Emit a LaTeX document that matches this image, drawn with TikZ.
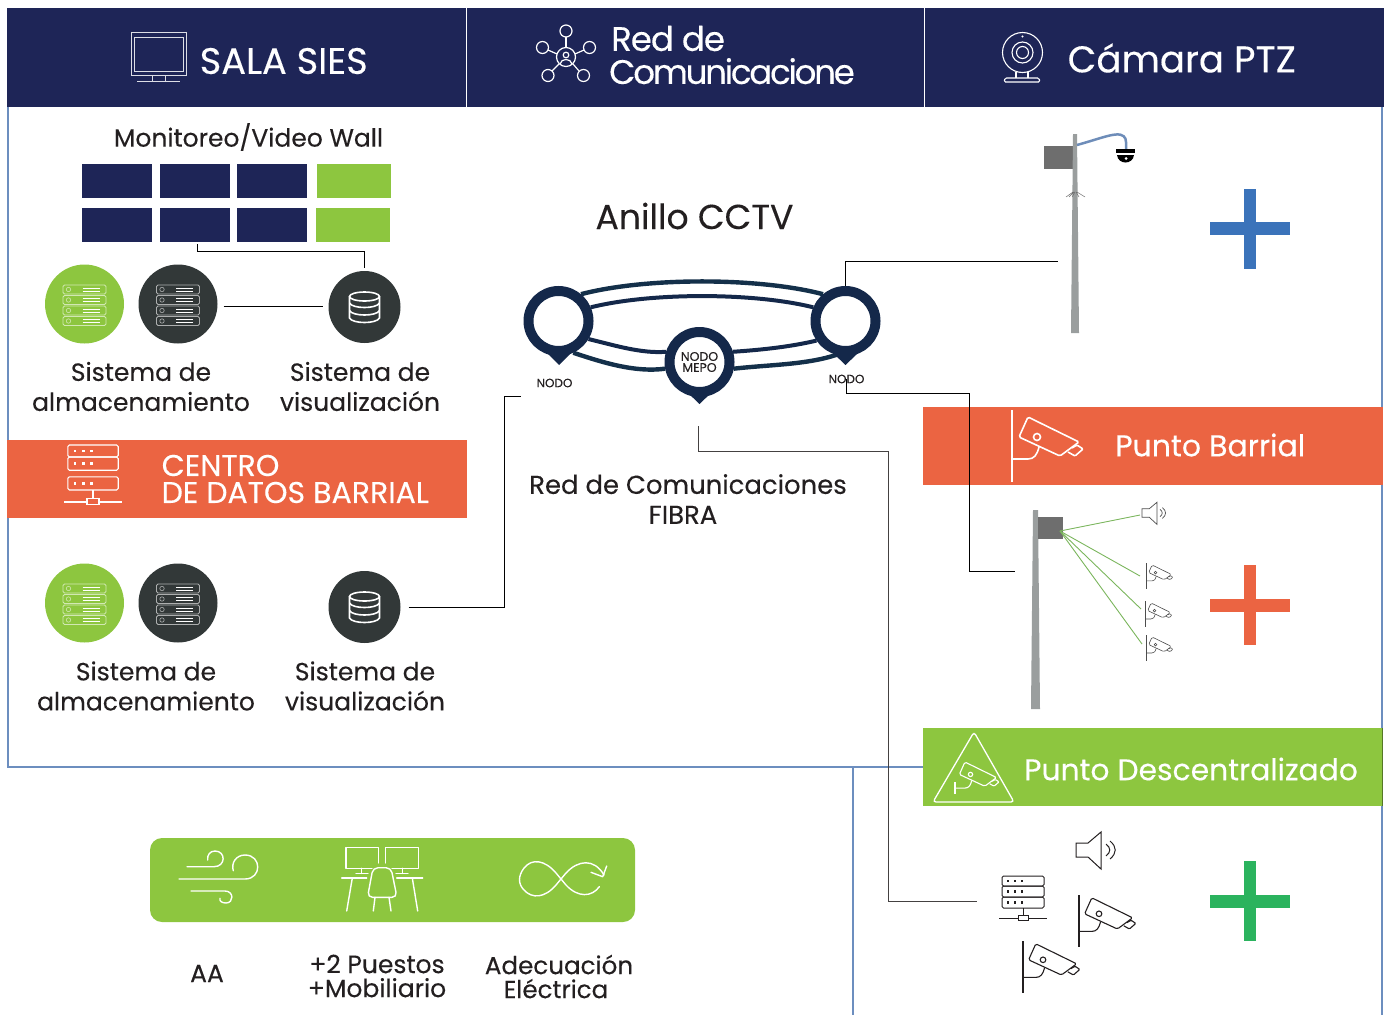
\documentclass[tikz,border=0pt]{standalone}
\usepackage{fontspec}
\setmainfont[FakeBold=.25]{Poppins}
\newfontfamily\tightfont[LetterSpace=-3,FakeBold=.25]{Poppins}
\newfontfamily\tighterfont[LetterSpace=-6.5,FakeBold=.25]{Poppins}
\usetikzlibrary{backgrounds}

\definecolor{navy}{HTML}{1E2557}
\definecolor{ringblue}{HTML}{14284A}
\definecolor{ringteal}{HTML}{14304A}
\definecolor{coral}{HTML}{EB6442}
\definecolor{leaf}{HTML}{8DC63F}
\definecolor{slate}{HTML}{323838}
\definecolor{ink}{HTML}{231F20}
\definecolor{edgeblue}{HTML}{6C8EBF}
\definecolor{postgray}{HTML}{9A9E9E}
\definecolor{boxgray}{HTML}{6E6E6E}
\definecolor{plusblue}{HTML}{3B73BA}
\definecolor{plusgreen}{HTML}{2BB35E}
\definecolor{tapgreen}{HTML}{7AB55C}

\tikzset{
    head/.style={rectangle, fill=navy, inner sep=0pt, minimum width=#1, minimum height=99pt},
    band/.style={rectangle, inner sep=0pt, minimum width=460pt, minimum height=78pt},
    screen/.style={rectangle, fill=navy, inner sep=0pt, minimum width=70pt, minimum height=34pt},
    greenscreen/.style={rectangle, fill=leaf, inner sep=0pt, minimum width=74pt, minimum height=34pt},
    disc/.style={circle, inner sep=0pt, minimum size=#1},
    pin/.style={circle, draw=ringblue, fill=white, line width=10pt, minimum size=60pt, inner sep=0pt,
        align=center, text=ink, font=\fontsize{12.5}{11}\selectfont},
    tag/.style={inner sep=0pt, text=ink, font=\fontsize{12}{14}\selectfont},
    lbl/.style={inner sep=0pt, text=ink, align=center, font=\fontsize{25}{30}\selectfont},
    whitetxt/.style={inner sep=0pt, anchor=west, text=white, align=left},
    wire/.style={draw=black, line width=.8pt},
    ringline/.style={draw=ringblue, line width=4pt},
    ringout/.style={draw=ringteal, line width=4.4pt},
    tap/.style={draw=tapgreen, line width=.9pt},
    edge/.style={draw=edgeblue, line width=1.2pt},
    pics/cctv/.style={code={
        \draw (0,-#1) -- (0,#1);
        \draw[rounded corners=1.5pt] (16,-29) -- (67,-4) -- (48,10) -- (7,-9) -- cycle;
        \draw (25,-9) circle (3.5);
        \draw[rounded corners=1pt] (60,2) -- (65,-1) -- (71,3) -- (63,10) -- (56,6);
        \draw (27,1) .. controls (25,9) and (22,13) .. (16,13) -- (0,13);
    }},
    pics/horn/.style={code={
        \draw (-25,-7) -- (-13,-7) -- (0,-18) -- (0,19) -- (-13,7) -- (-25,7) -- cycle;
        \draw (5,-6) .. controls (10,-2) and (10,2) .. (5,6);
        \draw (9,-9) .. controls (16,-3) and (16,3) .. (9,9);
    }},
    pics/rack/.style={code={
        \draw[rounded corners=1.5pt] (-21,0) rectangle (21,10);
        \draw[rounded corners=1.5pt] (-21,10) rectangle (21,21);
        \draw[rounded corners=1.5pt] (-21,{21+#1}) rectangle (21,{32+#1});
        \foreach \dx in {-15,-8,-1} {
            \fill (\dx-1.2,3.8) rectangle (\dx+1.2,6.2);
            \fill (\dx-1.2,14.3) rectangle (\dx+1.2,16.7);
            \fill (\dx-1.2,{25.3+#1}) rectangle (\dx+1.2,{27.7+#1});
        }
        \draw (0,{32+#1}) -- (0,{39+#1});
        \draw (-5,{39+#1}) rectangle (5,{44+#1});
        \draw (-24,{42+#1}) -- (-5,{42+#1});
        \draw (5,{42+#1}) -- (24,{42+#1});
    }},
    pics/shelf/.style={code={
        \foreach \rowy in {-14.5,-4,6.5,17} {
            \draw[#1, line width=.8pt, rounded corners=1.5pt] (-21.5,\rowy-4.5) rectangle (21.5,\rowy+4.5);
            \draw[#1, line width=.6pt] (-16,\rowy) circle (2.2);
            \draw[white, line width=.7pt] (-2,\rowy-1.5) -- (15,\rowy-1.5);
            \draw[white, line width=.7pt] (-2,\rowy+1.5) -- (15,\rowy+1.5);
        }
    }},
    pics/barrel/.style={code={
        \draw[white, line width=1.6pt] (0,-10.5) circle[x radius=15, y radius=4.5];
        \draw[white, line width=1.6pt] (-15,-10.5) -- (-15,11) .. controls (-12,17) and (12,17) .. (15,11) -- (15,-10.5);
        \draw[white, line width=1.6pt] (-15,-4) .. controls (-12,2) and (12,2) .. (15,-4);
        \draw[white, line width=1.6pt] (-15,3.5) .. controls (-12,9.5) and (12,9.5) .. (15,3.5);
    }},
    pics/plus/.style={code={
        \fill[#1] (-6,-40) rectangle (6,40);
        \fill[#1] (-40,-6.5) rectangle (40,6.5);
    }},
}

\begin{document}
\begin{tikzpicture}[x=1pt,y=-1pt]
    \useasboundingbox (0,0) rectangle (1389,1015);

    % frame
    \draw[edge] (8,107) -- (8,767) -- (923,767);
    \draw[edge] (853,767) -- (853,1015);
    \draw[edge] (1382,107) -- (1382,1015);

    % header
    \node[head=459pt] (hdrA) at (236.5,57.5) {};
    \node[head=458pt] (hdrB) at (695,57.5) {};
    \node[head=460pt] (hdrC) at (1154,57.5) {};
    \draw[white, line width=.8pt] (hdrA.north east) -- (hdrA.south east);
    \draw[white, line width=.8pt] (hdrB.north east) -- (hdrB.south east);
    \node[whitetxt, font=\fontsize{36.8}{36}\selectfont] (salaT) at (199.5,61) {SALA SIES};
    \node[whitetxt, font=\fontsize{34}{33}\selectfont] (redT) at (609,55) {\tightfont\hspace*{2pt}Red de\\\tighterfont Comunicacione};
    \node[whitetxt, font=\fontsize{37.2}{36}\selectfont] (camT) at (1067.5,58) {Cámara PTZ};

    % monitor
    \draw[white!85!navy, line width=.9pt] (131,32) rectangle (186,75);
    \draw[white!85!navy, line width=.9pt] (134.5,37) rectangle (183,71);
    \draw[white!85!navy, line width=.9pt] (152,75) -- (152,81.5);
    \draw[white!85!navy, line width=.9pt] (165,75) -- (165,81.5);
    \draw[white!85!navy, line width=.9pt] (137,81.5) -- (180,81.5);

    % network
    \begin{scope}[white, line width=1.2pt]
        \draw (566,57) circle (9.5);
        \draw (566,31) circle (6);
        \draw (542.5,47.5) circle (6);
        \draw (589.5,47.5) circle (6);
        \draw (548,75.5) circle (6);
        \draw (583.5,75.5) circle (6);
        \draw (566,37) -- (566,47.5);
        \draw (548,50) -- (557,54);
        \draw (584,50) -- (575,54);
        \draw (552,71) -- (559,64);
        \draw (579,71) -- (573,64);
        \draw (566,55) circle (2.8);
        \draw (560,64) .. controls (561,58) and (571,58) .. (572,64);
    \end{scope}

    % webcam
    \begin{scope}[white, line width=1.1pt]
        \draw (1022.5,52.5) circle (20);
        \draw (1022.5,52.5) circle (10.5);
        \draw (1022.5,52.5) circle (6);
        \fill (1022.5,36.5) circle (1.2);
        \draw (1016,72) -- (1016,78);
        \draw (1028,72) -- (1028,78);
        \draw[rounded corners=1.5pt] (1004,82) -- (1005,78) -- (1039,78) -- (1040,82) -- cycle;
    \end{scope}

    % video wall
    \node[lbl] (wallT) at (248.5,137) {Monitoreo/Video Wall};
    \node[screen] (scrA) at (117,181) {};
    \node[screen] (scrB) at (195,181) {};
    \node[screen] (scrC) at (272,181) {};
    \node[greenscreen] (scrD) at (354,181) {};
    \node[screen] (scrE) at (117,225) {};
    \node[screen] (scrF) at (195,225) {};
    \node[screen] (scrG) at (272,225) {};
    \node[greenscreen] (scrH) at (353,225) {};

    % upper room
    \node[disc=79pt, fill=leaf] (stGA) at (84.5,304) {};
    \node[disc=79pt, fill=slate] (stDA) at (178,304) {};
    \node[disc=72pt, fill=slate] (dbA) at (364.5,307) {};
    \pic at (stGA) {shelf={white!60!leaf}};
    \pic at (stDA) {shelf={white!60!slate}};
    \pic at (dbA) {barrel};
    \node[lbl] (stTA) at (141,386.5) {Sistema de\\almacenamiento};
    \node[lbl] (viTA) at (360,386.5) {Sistema de\\visualización};

    % centro
    \node[band, fill=coral] (bandC) at (237,479) {};
    \pic[white, line width=1.1pt, scale=1.2] at (93,445) {rack=5.5};
    \node[whitetxt, font=\fontsize{30}{27}\selectfont] (bandCT) at (161.5,479) {CENTRO\\DE DATOS BARRIAL};

    % lower room
    \node[disc=79pt, fill=leaf] (stGB) at (84.5,603) {};
    \node[disc=79pt, fill=slate] (stDB) at (178,603) {};
    \node[disc=72pt, fill=slate] (dbB) at (364.5,607) {};
    \pic at (stGB) {shelf={white!60!leaf}};
    \pic at (stDB) {shelf={white!60!slate}};
    \pic at (dbB) {barrel};
    \node[lbl] (stTB) at (146,686) {Sistema de\\almacenamiento};
    \node[lbl] (viTB) at (365,686) {Sistema de\\visualización};

    % ring
    \node[lbl, font=\fontsize{34.6}{34}\selectfont] (ringT) at (694.5,216) {Anillo CCTV};
    \node[pin] (pinL) at (558.5,321) {};
    \node[pin] (pinR) at (845.5,321) {};
    \node[pin] (pinM) at (699.5,362) {NODO\\MEPO};
    \fill[ringblue] (548,354) -- (570,354) -- (559,365) -- cycle;
    \fill[ringblue] (834,354) -- (857,354) -- (845.5,365) -- cycle;
    \fill[ringblue] (687,392) -- (712,392) -- (699.5,404) -- cycle;
    \begin{scope}[on background layer]
        \draw[ringout] (pinL.50) .. controls +(65,-17) and +(-65,-17) .. (pinR.130);
        \draw[ringline] (pinL.23) .. controls +(60,-15) and +(-60,-15) .. (pinR.157);
        \draw[ringline] (pinL.-31) .. controls +(25,6) and +(-25,2) .. (pinM.163);
        \draw[ringout] (pinL.-65) .. controls +(30,10) and +(-30,4) .. (pinM.191);
        \draw[ringline] (pinM.17) .. controls +(30,-2) and +(-25,6) .. (pinR.214);
        \draw[ringout] (pinM.-11) .. controls +(35,-4) and +(-30,10) .. (pinR.255);
    \end{scope}
    \node[tag] (tagL) at (554.5,383) {NODO};
    \node[tag] (tagR) at (846.5,379) {NODO};
    \node[lbl, font=\fontsize{25.9}{30}\selectfont] (fibraT) at (688,499) {Red de Comunicaciones\\FIBRA\hspace*{10pt}};

    % pole ptz
    \fill[boxgray] (1044,146) rectangle (1073,169);
    \fill[postgray] (1073,134) -- (1077,134) -- (1079,333) -- (1071,333) -- cycle;
    \draw[edgeblue!90!gray, line width=2.5pt] (1077,145) .. controls (1095,140) and (1108,135) .. (1116,134.5) .. controls (1123,134) and (1126,137) .. (1126,142) -- (1126,149);
    \fill[black] (1116,149) rectangle (1135,153);
    \fill[black] (1117,155) .. controls (1118,165) and (1133,165) .. (1134,155) -- cycle;
    \fill[white] (1126,158.5) circle (1.5);
    \draw[boxgray, line width=.5pt] (1066,197) -- (1073,192) (1069,197) -- (1074,192) (1072,197) -- (1075,192) (1079,197) -- (1076,192) (1085,197) -- (1077,192);
    \pic at (1250,228.5) {plus=plusblue};

    % punto barrial
    \node[band, fill=coral] (bandB) at (1153,446) {};
    \pic[white, line width=1.6pt] at (1012,446) {cctv=36};
    \node[whitetxt, font=\fontsize{30}{30}\selectfont] (bandBT) at (1115,445) {Punto Barrial};
    \fill[postgray] (1033,510) -- (1038,510) -- (1040,709) -- (1031,709) -- cycle;
    \fill[boxgray] (1038,517) rectangle (1063,539);
    \coordinate (hubB) at (1060,531);
    \coordinate (spkB) at (1157,513);
    \coordinate (tapS) at (1140,515);
    \coordinate (tapA) at (1140,576);
    \coordinate (tapC) at (1141,609);
    \coordinate (tapD) at (1142,644);
    \draw[tap] (hubB) -- (tapS);
    \draw[tap] (hubB) -- (tapA);
    \draw[tap] (hubB) -- (tapC);
    \draw[tap] (hubB) -- (tapD);
    \pic[boxgray!70!black, line width=.7pt, scale=.6] at (spkB) {horn};
    \pic[boxgray!70!black, line width=.6pt, scale=.38] at (1146,576) {cctv=33};
    \pic[boxgray!70!black, line width=.6pt, scale=.38] at (1145,614) {cctv=33};
    \pic[boxgray!70!black, line width=.6pt, scale=.38] at (1146,648) {cctv=33};
    \pic at (1250,605) {plus=coral};

    % punto descentralizado
    \node[band, fill=leaf, minimum width=459pt] (bandD) at (1152.5,767) {};
    \draw[leaf!60!black, line width=1.2pt] (bandD.north east) -- (bandD.south east);
    \draw[white, line width=1.3pt, rounded corners=3pt] (974,732) -- (1014,802) -- (933,802) -- cycle;
    \pic[white, line width=1.1pt, scale=.62] at (955,780) {cctv=0};
    \draw[white, line width=1.1pt] (955,782) -- (955,794);
    \node[whitetxt, font=\fontsize{29.8}{30}\selectfont] (bandDT) at (1024,769) {Punto Descentralizado};
    \pic[ink, line width=1pt] at (1101,850) {horn};
    \pic[ink, line width=1pt] at (1023,876) {rack=0};
    \pic[ink, line width=1.1pt, scale=.8] at (1079,921) {cctv=32.5};
    \pic[ink, line width=1.1pt, scale=.8] at (1023,967) {cctv=32.5};
    \pic at (1250,901) {plus=plusgreen};

    % wires
    \coordinate (lanA) at (521,396);
    \coordinate (turnA) at (504,396);
    \coordinate (lanC) at (1058,261);
    \coordinate (turnR) at (969,393);
    \coordinate (lanB) at (1015,571);
    \coordinate (lanM) at (698,426);
    \coordinate (turnM) at (888,451);
    \coordinate (lanD) at (977,901);
    \draw[wire, shorten <=2pt, shorten >=3pt] ([xshift=2pt]scrF.south) -- ++(0,9) -| (dbA.north);
    \draw[wire, shorten <=6pt, shorten >=5pt] ([yshift=1pt]stDA.east |- dbA) -- ([yshift=1pt]dbA.west);
    \draw[wire, shorten <=8pt] (dbB.east) -| (turnA) -- (lanA);
    \draw[wire] (pinR.north) |- (lanC);
    \draw[wire] (tagR.center) |- (turnR) |- (lanB);
    \draw[wire, draw=ink!85] (lanM) |- (turnM) |- (lanD);

    % services
    \node[rectangle, fill=leaf, rounded corners=12pt, inner sep=0pt, minimum width=485pt, minimum height=84pt] (svcBar) at (392.5,880) {};
    \begin{scope}[white, line width=1.4pt, line cap=round, line join=round]
        % wind
        \draw (187,866.7) -- (214,866.7) .. controls (226,866.7) and (226,851) .. (215,851) .. controls (210,851) and (207,855) .. (207.7,860);
        \draw (179,879) -- (245,879) .. controls (262,879) and (262,855) .. (245,855) .. controls (236,855) and (231,863) .. (233.3,870.7);
        \draw (191,891) -- (225,891) .. controls (234,891) and (234,903) .. (226,903) .. controls (222,903) and (219,901) .. (220,898.3);
        % desk
        \draw (378.7,863) -- (378.7,847.3) -- (346,847.3) -- (346,868.3) -- (372,868.3);
        \draw (385.7,863) -- (385.7,847.3) -- (418.3,847.3) -- (418.3,868.3) -- (392,868.3);
        \draw (361.7,868.3) -- (361.7,873.5) (356,873.5) -- (368,873.5);
        \draw (402.3,868.3) -- (402.3,873.5) (396,873.5) -- (408,873.5);
        \draw (341.7,878) -- (366.7,878) (396.7,878) -- (422.7,878);
        \draw (352.3,878) -- (346.7,911) (412.3,878) -- (417.7,911);
        \draw[rounded corners=5pt] (373,867.7) -- (391,867.7) -- (397,897.3) -- (367.5,897.3) -- cycle;
        \draw (375,897.3) -- (373.3,911) (389,897.3) -- (391,911);
        % loop
        \draw (599.3,886.7) .. controls (592,897) and (578,898) .. (566,885) -- (556,873) .. controls (545,860) and (532,858) .. (524,868) .. controls (518,876) and (518,884) .. (524,890) .. controls (532,899) and (545,898) .. (556,885) -- (566,873) .. controls (578,860) and (594,858) .. (604,875);
        \draw (606.7,866) -- (602.7,876.7) -- (591,872.3);
    \end{scope}
    \node[lbl] (aaT) at (207,973.5) {AA};
    \node[lbl, font=\fontsize{25}{24}\selectfont] (deskT) at (377,976) {+2 Puestos\\+Mobiliario};
    \node[lbl, font=\fontsize{24.6}{24}\selectfont] (powerT) at (557.5,976.5) {\hspace*{3pt}Adecuación\\Eléctrica\hspace*{3pt}};
\end{tikzpicture}
\end{document}
